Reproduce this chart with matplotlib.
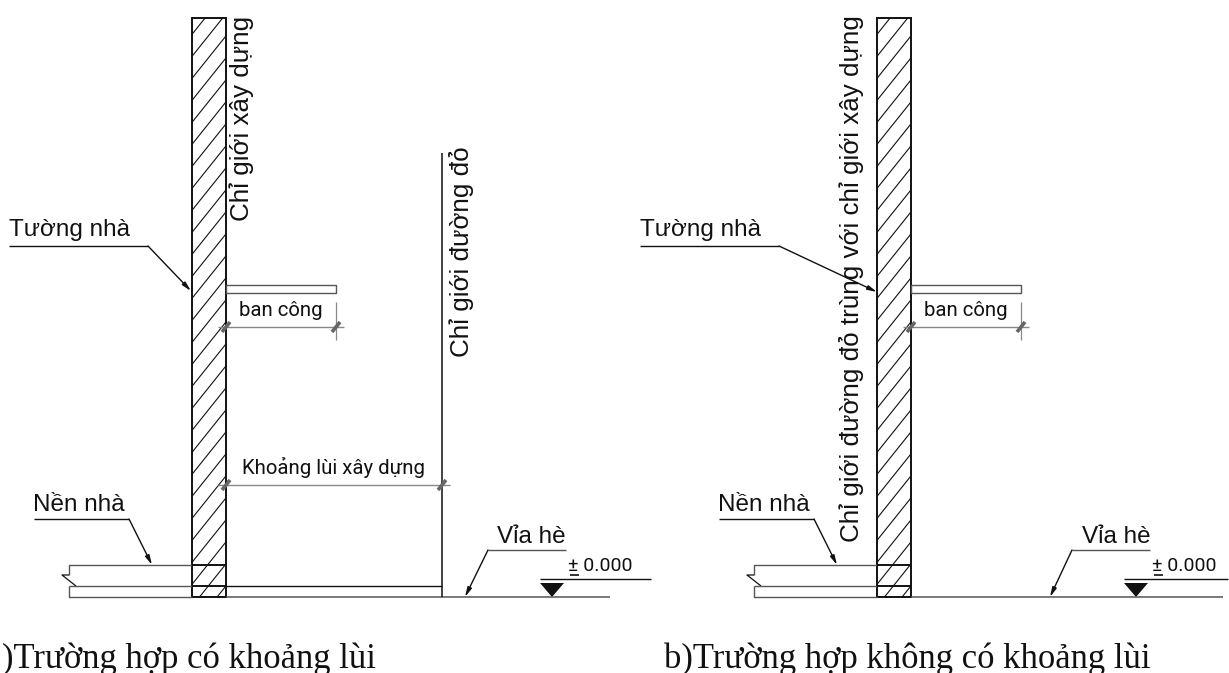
import matplotlib
matplotlib.use("Agg")
import matplotlib.pyplot as plt
from matplotlib.patches import Polygon, Rectangle

NARROW = "Roboto"
SANS = "Liberation Sans"

# Panel geometry, in drawing units; panel b repeats panel a at OFFSET
OFFSET = 685
WALL = (191.5, 226)
WALL_TOP, WALL_BOTTOM = 18, 597
SLAB_LEFT = 69
SLAB_TOP, SLAB_MID, GROUND = 565, 586, 597
BALCONY = (226, 336, 285, 293)
GROUND_RIGHT_A, GROUND_RIGHT_B = 610, 1223
LEVEL_A = (540, 651, 600)
LEVEL_B = (1124, 1228, 1184)
HATCH_STEP, HATCH_RISE = 22, 1.25
LABEL_WALL = "Tường nhà"
LABEL_FLOOR = "Nền nhà"
LABEL_PAVE = "Vỉa hè"
LABEL_BALCONY = "ban công"
LABEL_LEVEL = "± 0.000"
LABEL_SETBACK = "Khoảng lùi xây dựng"
LABEL_BUILD = "Chỉ giới xây dựng"
LABEL_RED = "Chỉ giới đường đỏ"
LABEL_SAME = "Chỉ giới đường đỏ trùng với chỉ giới xây dựng"
CAPTION_A = ")Trường hợp có khoảng lùi"
CAPTION_B = "b)Trường hợp không có khoảng lùi"

fig = plt.figure(figsize=(12.29, 6.73), dpi=100)
ax = fig.add_axes([0, 0, 1, 1])
ax.set_xlim(0, 1229)
ax.set_ylim(673, 0)
ax.axis("off")
K = "#111111"
G = "#555555"


def line(xs, ys, lw=1.0, c=K, **kw):
    ax.plot(xs, ys, color=c, lw=lw, solid_capstyle="butt", **kw)


def arrow(start, tip):
    ax.annotate("", xy=tip, xytext=start,
                arrowprops=dict(arrowstyle="-|>,head_length=0.55,head_width=0.13",
                                lw=1.0, color=K, shrinkA=0, shrinkB=0))


def tick(x, y):
    ax.plot([x - 4, x + 4], [y + 5, y - 5], color="#666666", lw=2.6, solid_capstyle="butt")


def dim(x0, x1, y):
    line([x0 - 8, x1 + 8], [y, y], lw=1.0, c="#888888")
    tick(x0, y)
    tick(x1, y)


def level(x0, x1, xt):
    line([x0, x1], [579, 579])
    ax.add_patch(Polygon([(x0, 583), (x0 + 24, 583), (x0 + 12, 597)], fc=K, ec="none"))
    ax.text(xt, 566, LABEL_LEVEL, family=NARROW, fontsize=14.0, ha="center", va="center", color=K)
    line([xt - 30, xt - 21], [574.5, 574.5], lw=1.2)


def base(dx):
    x0, x1 = WALL[0] + dx, WALL[1] + dx
    w = x1 - x0
    clip = Rectangle((x0, WALL_TOP), w, WALL_BOTTOM - WALL_TOP, transform=ax.transData)
    for c in range(WALL_TOP - 5, WALL_BOTTOM + 50, HATCH_STEP):
        l, = ax.plot([x0, x1], [c, c - HATCH_RISE * w], color=K, lw=0.8)
        l.set_clip_path(clip)
    ax.add_patch(Rectangle((x0, WALL_TOP), w, WALL_BOTTOM - WALL_TOP, fill=False, ec=K, lw=1.4))
    sl = SLAB_LEFT + dx
    line([sl, sl, x0], [SLAB_MID - 11, SLAB_TOP, SLAB_TOP], c=G)
    line([sl, sl - 7, sl + 7], [SLAB_MID - 11, SLAB_MID - 11, SLAB_MID], lw=0.9, c=K)
    line([sl, sl, x0], [SLAB_MID, GROUND, GROUND], c=G)
    line([sl, x0], [SLAB_MID, SLAB_MID], c=G)
    line([x0, x1], [SLAB_TOP, SLAB_TOP], lw=1.4)
    line([x0, x1], [SLAB_MID, SLAB_MID], lw=1.4)
    # balcony
    bx0, bx1, by0, by1 = BALCONY
    ax.add_patch(Rectangle((bx0 + dx, by0), bx1 - bx0, by1 - by0, fill=False, ec=G, lw=1.0))
    line([bx1 + dx, bx1 + dx], [302, 340], lw=0.9, c="#888888")
    dim(bx0 + dx, bx1 + dx, 327)
    ax.text(281 + dx, 310, LABEL_BALCONY, family=NARROW, fontsize=14.7, ha="center", va="center", color=K)
    # floor leader
    line([34 + dx, 129 + dx], [519, 519])
    arrow((129 + dx, 519), (152 + dx, 565))
    ax.text(33 + dx, 511, LABEL_FLOOR, family=SANS, fontsize=17.5, ha="left", va="baseline", color=K)
    # wall leader text
    ax.text(9 + (631 if dx else 0), 236, LABEL_WALL, family=SANS, fontsize=17.5, ha="left", va="baseline", color=K)


base(0)
base(OFFSET)

# Panel a specifics
line([226, GROUND_RIGHT_A], [GROUND, GROUND], lw=1.1, c=G)
level(LEVEL_A[0], LEVEL_A[1], LEVEL_A[2])
line([442, 442], [153, 597], lw=1.1, c=K)
line([226, 442], [586, 586], c=K)
dim(226, 442, 485)
ax.text(334, 467, LABEL_SETBACK, family=NARROW, fontsize=14.7, ha="center", va="center", color=K)
line([488, 566], [550, 550], c=G)
arrow((488, 550), (465, 597))
ax.text(531.5, 543, LABEL_PAVE, family=SANS, fontsize=17.5, ha="center", va="baseline", color=K)
line([9, 148], [246, 246])
arrow((148, 246), (191, 291))
ax.text(242, 118, LABEL_BUILD, family=SANS, fontsize=18.7, rotation=90, ha="center", va="center", color=K)
ax.text(462, 252, LABEL_RED, family=SANS, fontsize=18.7, rotation=90, ha="center", va="center", color=K)
ax.text(2, 668, CAPTION_A, family="Liberation Serif", fontsize=24.9, ha="left", va="baseline", color=K)

# Panel b specifics
line([911, GROUND_RIGHT_B], [GROUND, GROUND], lw=1.1, c=G)
level(LEVEL_B[0], LEVEL_B[1], LEVEL_B[2])
line([1072, 1150], [550, 550], c=G)
arrow((1072, 550), (1050, 597))
ax.text(1116, 543, LABEL_PAVE, family=SANS, fontsize=17.5, ha="center", va="baseline", color=K)
line([640, 779], [246, 246])
arrow((779, 246), (877, 292))
ax.text(852, 279, LABEL_SAME, family=SANS, fontsize=18.7, rotation=90, ha="center", va="center", color=K)
ax.text(664, 668, CAPTION_B, family="Liberation Serif", fontsize=24.9, ha="left", va="baseline", color=K)

fig.savefig("out.png", dpi=100, facecolor="white")
